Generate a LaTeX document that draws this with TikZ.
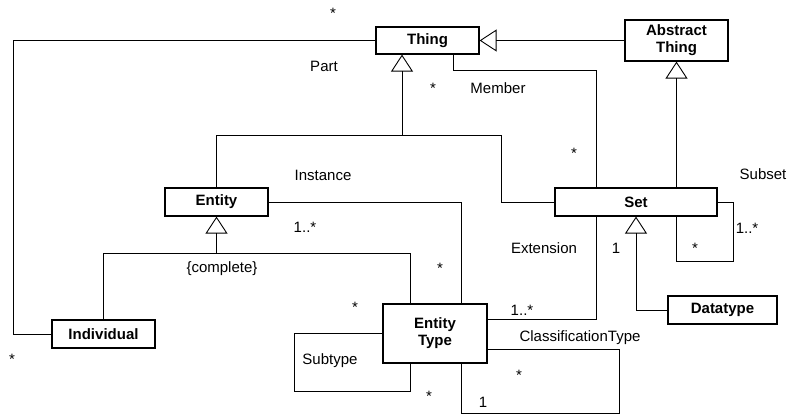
\documentclass[tikz,border=0pt]{standalone}
\usepackage{fontspec}
\setmainfont{Liberation Sans}
\usetikzlibrary{arrows.meta}
\tikzset{
    classbox/.style = {rectangle, draw=black, line width=1.2pt, inner sep=0pt, align=center, font=\fontsize{15}{17}\selectfont\bfseries},
    lbl/.style = {inner sep=0pt},
    mult/.style = {inner sep=0pt},
    assoc/.style = {line width=0.9pt},
    genl/.style = {line width=0.9pt, -{Triangle[open,length=17pt,width=22pt]}}, % generalisation
}

\begin{document}
\begin{tikzpicture}[x=1pt, y=-1pt, font=\fontsize{15}{17}\selectfont]
  \useasboundingbox (0,0) rectangle (790,415);

  % classes
  \node[classbox, minimum width=103pt, minimum height=27pt] (thing) at (427.5,40.5) {Thing};
  \node[classbox, minimum width=103pt, minimum height=41pt] (abst) at (676.5,40.5) {Abstract\\Thing};
  \node[classbox, minimum width=103pt, minimum height=28pt] (entity) at (216.5,202) {Entity};
  \node[classbox, minimum width=162pt, minimum height=28pt] (set) at (636,202) {Set};
  \node[classbox, minimum width=103pt, minimum height=28pt] (individual) at (103.5,334) {Individual};
  \node[classbox, minimum width=104pt, minimum height=59pt] (etype) at (435,333.5) {Entity\\Type};
  \node[classbox, minimum width=109pt, minimum height=28pt] (datatype) at (722.5,310) {Datatype};

  % bends
  \coordinate (gthing) at (402,135);
  \coordinate (gset) at (501,135);
  \coordinate (gent) at (216.5,253);
  \coordinate (gtype) at (410,253);
  \coordinate (partx) at (13,0);
  \coordinate (mem1) at (453,70);
  \coordinate (mem2) at (596,70);
  \coordinate (inst) at (461,202);
  \coordinate (sub1) at (410,391);
  \coordinate (sub2) at (294,391);
  \coordinate (ext) at (596,319);
  \coordinate (ct0) at (619,349);
  \coordinate (ct1) at (619,413);
  \coordinate (ct2) at (461,413);
  \coordinate (ss1) at (733,261);
  \coordinate (ss2) at (676.5,261);

  % generalisations
  \draw[genl] (abst.west) -- (thing.east);
  \draw[genl] (gthing) -- (thing.south -| gthing);
  \draw[assoc] (entity.north) |- (gset) |- (set.west);
  \draw[genl] (set.north -| abst) -- (abst.south);
  \draw[genl] (gent) -- (entity.south);
  \draw[assoc] (individual.north) |- (gtype) -- (gtype |- etype.north);
  \draw[genl] (datatype.west) -| (set.south);

  % associations
  \draw[assoc] (thing.west) -| (partx |- individual.west) -- (individual.west);
  \draw[assoc] (mem1 |- thing.south) -- (mem1) -- (mem2) -- (mem2 |- set.north);
  \draw[assoc] (entity.east) -| (inst |- etype.north);
  \draw[assoc] (sub1 |- etype.south) -- (sub1) -- (sub2) |- (etype.west);
  \draw[assoc] (etype.east |- ext) -- (ext) -- (ext |- set.south);
  \draw[assoc] (etype.east |- ct0) -- (ct0) -- (ct1) -- (ct2) -- (ct2 |- etype.south);
  \draw[assoc] (set.east) -| (ss1) -- (ss2) -- (ss2 |- set.south);

  % labels
  \node[mult] (m1) at (333,13) {*};
  \node[lbl] (part) at (324,66) {Part};
  \node[mult] (m2) at (12,359) {*};
  \node[lbl] (instance) at (323,175) {Instance};
  \node[mult] (m3) at (433,88) {*};
  \node[lbl] (member) at (498,88) {Member};
  \node[mult] (m4) at (574,153) {*};
  \node[lbl] (subset) at (763,174) {Subset};
  \node[mult] (m5) at (305,227) {1..*};
  \node[lbl] (complete) at (222,269) {\{complete\}};
  \node[mult] (m6) at (440,268) {*};
  \node[mult] (m7) at (355,307) {*};
  \node[lbl] (subtype) at (330,360.5) {Subtype};
  \node[mult] (m8) at (429,396) {*};
  \node[lbl] (extension) at (544,248) {Extension};
  \node[mult] (m9) at (616,248) {1};
  \node[mult] (m10) at (522,310) {1..*};
  \node[lbl] (classtype) at (580,337.5) {ClassificationType};
  \node[mult] (m11) at (519,375) {*};
  \node[mult] (m12) at (483,402) {1};
  \node[mult] (m13) at (747,228) {1..*};
  \node[mult] (m14) at (695,248) {*};
\end{tikzpicture}
\end{document}
